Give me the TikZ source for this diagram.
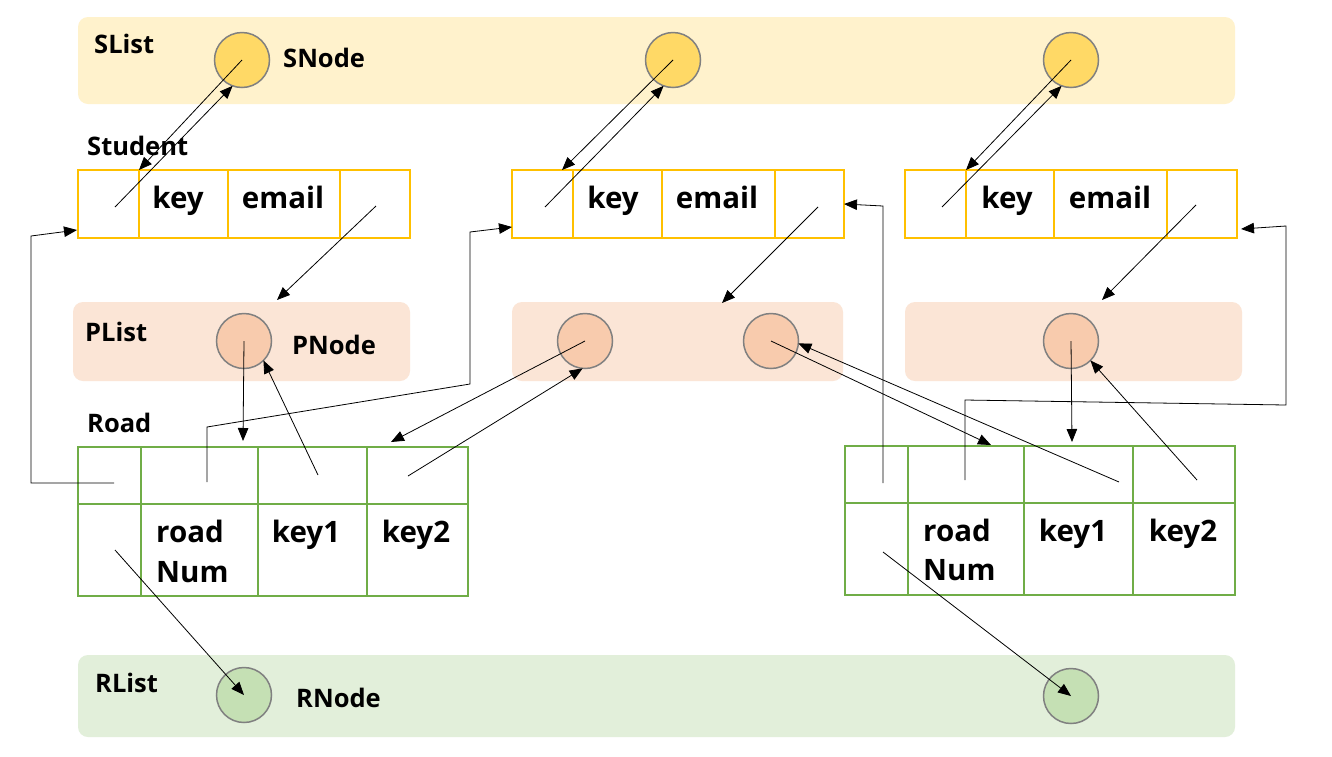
\documentclass[tikz,border=0pt]{standalone}
\usepackage{fontspec}
\setmainfont{Open Sans}
\usetikzlibrary{arrows.meta,calc}
\definecolor{sbandc}{HTML}{FFF2CC}
\definecolor{snodec}{HTML}{FFD966}
\definecolor{pbandc}{HTML}{FBE5D6}
\definecolor{pnodec}{HTML}{F8CBAD}
\definecolor{rbandc}{HTML}{E2EFDA}
\definecolor{rnodec}{HTML}{C5E0B4}
\definecolor{edgec}{HTML}{808080}
\definecolor{stc}{HTML}{FFC000}
\definecolor{rdc}{HTML}{70AD47}
\begin{document}
\begin{tikzpicture}[x=1pt,y=-1pt,
 band/.style={draw=none,rounded corners=10pt,inner sep=0,outer sep=0},
 listnode/.style={circle,fill=#1,draw=edgec,line width=1.5pt,minimum size=55pt,inner sep=0,outer sep=0},
 stcell/.style={draw=stc,line width=1.5pt,minimum height=68pt,inner sep=0,outer sep=0},
 rdcell/.style={draw=rdc,line width=1.5pt,inner sep=0,outer sep=0},
 lbl/.style={anchor=base west,font=\bfseries\fontsize{25.5}{30}\selectfont,inner sep=0},
 celltxt/.style={anchor=base,font=\bfseries\fontsize{29.5}{34}\selectfont,inner sep=0},
 celltxtl/.style={anchor=base west,font=\bfseries\fontsize{29.5}{34}\selectfont,inner sep=0},
 arr/.style={-{Triangle[length=13pt,width=10.5pt]},line width=0.8pt},
 wire/.style={line width=0.8pt}
]
\useasboundingbox[fill=white] (0,0) rectangle (1332,756);

% bands
\node[band,fill=sbandc,minimum width=1157pt,minimum height=87pt] (slist) at (656.5,60.5) {};
\node[band,fill=pbandc,minimum width=337pt,minimum height=79pt] (pb1) at (241.5,341.5) {};
\node[band,fill=pbandc,minimum width=331pt,minimum height=79pt] (pb2) at (677.5,341.5) {};
\node[band,fill=pbandc,minimum width=337pt,minimum height=79pt] (pb3) at (1073.5,341.5) {};
\node[band,fill=rbandc,minimum width=1157pt,minimum height=82pt] (rlist) at (656.5,696) {};

% labels
\node[lbl] (lslist) at (94,53) {SList};
\node[lbl] (lsnode) at (283,67) {SNode};
\node[lbl] (lstudent) at (87,155) {Student};
\node[lbl] (lplist) at (85,341) {PList};
\node[lbl] (lpnode) at (292,354) {PNode};
\node[lbl] (lroad) at (87,432) {Road};
\node[lbl] (lrlist) at (95,692) {RList};
\node[lbl] (lrnode) at (296,707) {RNode};

% list nodes
\node[listnode=snodec] (sn1) at (242,60) {};
\node[listnode=snodec] (sn2) at (673,60) {};
\node[listnode=snodec] (sn3) at (1071,60) {};
\node[listnode=pnodec] (pn1) at (244,341) {};
\node[listnode=pnodec] (pn2) at (585,341) {};
\node[listnode=pnodec] (pn3) at (771,341) {};
\node[listnode=pnodec] (pn4) at (1071,341) {};
\node[listnode=rnodec] (rn1) at (244,695) {};
\node[listnode=rnodec] (rn2) at (1071,696) {};

% student cells
\node[stcell,minimum width=61pt] (s1a) at (108.5,204) {};
\node[stcell,minimum width=89pt] (s1b) at (183.5,204) {};
\node[stcell,minimum width=112pt] (s1c) at (284,204) {};
\node[stcell,minimum width=70pt] (s1d) at (375,204) {};
\node[stcell,minimum width=61pt] (s2a) at (542.5,204) {};
\node[stcell,minimum width=89pt] (s2b) at (617.5,204) {};
\node[stcell,minimum width=113pt] (s2c) at (718.5,204) {};
\node[stcell,minimum width=69pt] (s2d) at (809.5,204) {};
\node[stcell,minimum width=61pt] (s3a) at (935.5,204) {};
\node[stcell,minimum width=88pt] (s3b) at (1010,204) {};
\node[stcell,minimum width=113pt] (s3c) at (1110.5,204) {};
\node[stcell,minimum width=70pt] (s3d) at (1202,204) {};
\node[celltxt] (t1k) at (178,208) {key};
\node[celltxt] (t1e) at (283,208) {email};
\node[celltxt] (t2k) at (613,208) {key};
\node[celltxt] (t2e) at (717,208) {email};
\node[celltxt] (t3k) at (1007,208) {key};
\node[celltxt] (t3e) at (1110,208) {email};

% road cells
\node[rdcell,minimum width=63pt,minimum height=57pt] (r1a) at (109.5,475.5) {};
\node[rdcell,minimum width=117pt,minimum height=57pt] (r1b) at (199.5,475.5) {};
\node[rdcell,minimum width=109pt,minimum height=57pt] (r1c) at (312.5,475.5) {};
\node[rdcell,minimum width=101pt,minimum height=57pt] (r1d) at (417.5,475.5) {};
\node[rdcell,minimum width=63pt,minimum height=92pt] (r1e) at (109.5,550) {};
\node[rdcell,minimum width=117pt,minimum height=92pt] (r1f) at (199.5,550) {};
\node[rdcell,minimum width=109pt,minimum height=92pt] (r1g) at (312.5,550) {};
\node[rdcell,minimum width=101pt,minimum height=92pt] (r1h) at (417.5,550) {};
\node[rdcell,minimum width=63pt,minimum height=57pt] (r2a) at (876.5,474.5) {};
\node[rdcell,minimum width=116pt,minimum height=57pt] (r2b) at (966,474.5) {};
\node[rdcell,minimum width=109pt,minimum height=57pt] (r2c) at (1078.5,474.5) {};
\node[rdcell,minimum width=102pt,minimum height=57pt] (r2d) at (1184,474.5) {};
\node[rdcell,minimum width=63pt,minimum height=92pt] (r2e) at (876.5,549) {};
\node[rdcell,minimum width=116pt,minimum height=92pt] (r2f) at (966,549) {};
\node[rdcell,minimum width=109pt,minimum height=92pt] (r2g) at (1078.5,549) {};
\node[rdcell,minimum width=102pt,minimum height=92pt] (r2h) at (1184,549) {};
\node[celltxtl] (r1t1) at (156,542) {road};
\node[celltxtl] (r1t2) at (156,582) {Num};
\node[celltxt] (r1k1) at (306,542) {key1};
\node[celltxt] (r1k2) at (416,542) {key2};
\node[celltxtl] (r2t1) at (923,541) {road};
\node[celltxtl] (r2t2) at (923,580) {Num};
\node[celltxt] (r2k1) at (1073,541) {key1};
\node[celltxt] (r2k2) at (1183,541) {key2};

% free ends
\coordinate (a1) at (115,207);
\coordinate (a2) at (545,207);
\coordinate (a3) at (942,207);
\coordinate (s2tip) at (562,170);
\coordinate (b1) at (376,206);
\coordinate (b2) at (818,207);
\coordinate (b3) at (1196,205);
\coordinate (pt1) at (277,300);
\coordinate (pt2) at (722,303);
\coordinate (pt3) at (1102,300);
\coordinate (rt1) at (243,441);
\coordinate (rt2) at (391,442);
\coordinate (rt3) at (991,445);
\coordinate (rt4) at (1072,442);
\coordinate (k11) at (318,475);
\coordinate (k12) at (408,476);
\coordinate (k21) at (1119,482);
\coordinate (k22) at (1197,480);
\coordinate (n1) at (207,482);
\coordinate (n2) at (965,480);
\coordinate (l1) at (114,483);
\coordinate (l2) at (883,483);
\coordinate (d1) at (115,550);
\coordinate (d2) at (883,552);

% student <-> snode
\draw[arr] (sn1.center) -- (s1a.north east);
\draw[arr] (a1) -- (sn1.250);
\draw[arr] (sn2.center) -- (s2tip);
\draw[arr] (a2) -- (sn2.250);
\draw[arr] (sn3.center) -- (s3a.north east);
\draw[arr] (a3) -- (sn3.250);

% student -> plist
\draw[arr] (b1) -- (pt1);
\draw[arr] (b2) -- (pt2);
\draw[arr] (b3) -- (pt3);

% road 1
\draw[arr] (pn1.center) -- (rt1);
\draw[arr] (k11) -- (pn1.-45);
\draw[arr] (pn2.center) -- (rt2);
\draw[arr] (k12) -- (pn2.265);
\draw[arr] (n1) -- (207,427) -- (470,384) -- (470,232) -- ($(s2a.south west)+(0,-11)$);
\draw[arr] (l1) -- (31,483) -- (31,236) -- ($(s1a.south west)+(-1,-8)$);
\draw[arr] (d1) -- (rn1.center);

% road 2
\draw[arr] (pn3.center) -- (rt3);
\draw[arr] (k21) -- (pn3.-5);
\draw[arr] (pn4.center) -- (rt4);
\draw[arr] (k22) -- (pn4.-45);
\draw[arr] (n2) -- (965,400) -- (1286,405) -- (1286,226) -- ($(s3d.south east)+(4,-9)$);
\draw[arr] (l2) -- (883,206) -- (s2d.east);
\draw[arr] (d2) -- (rn2.center);
\end{tikzpicture}
\end{document}
